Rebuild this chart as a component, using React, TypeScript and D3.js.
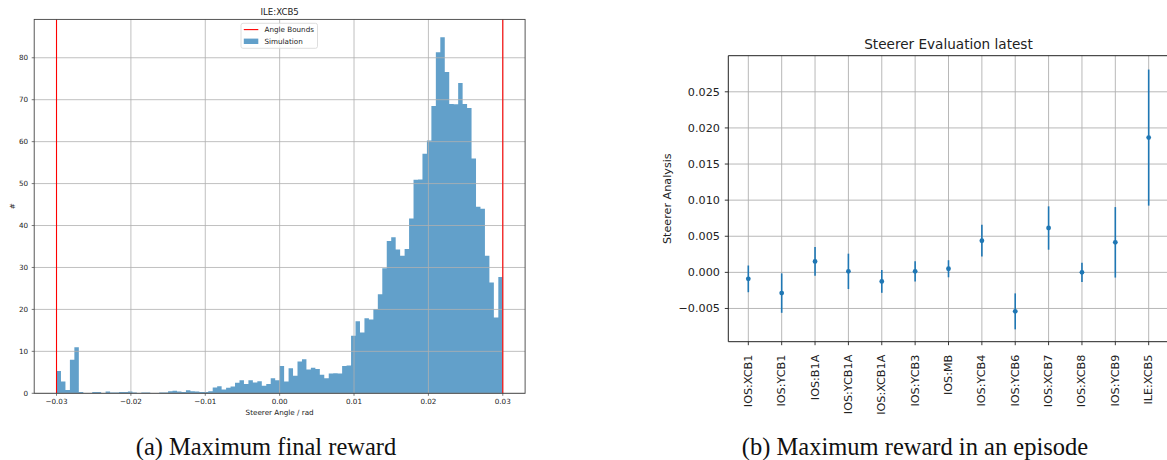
import React from "react";
import * as d3 from "d3";

// ---- Histogram of steerer angles for ILE:XCB5 ----
const histRange = [-0.03, 0.03];
const histCounts = [
  5.3, 2.8, 0.8, 8.0, 11.0, 0.3, 0, 0, 0.3, 0.3,
  0, 0.4, 0.2, 0.2, 0.3, 0.3, 0.4, 0.2, 0, 0.2,
  0.2, 0, 0, 0.2, 0.2, 0.5, 0.6, 0.4, 0.3, 0.7,
  0.5, 0.4, 0.3, 0.3, 0.5, 1.4, 1.7, 0.9, 1.3, 1.6,
  2.5, 3.1, 2.2, 3.1, 2.6, 2.9, 1.8, 2.2, 3.6, 3.1,
  6.5, 2.8, 6.0, 4.2, 7.6, 8.1, 5.7, 6.1, 5.8, 4.4,
  3.6, 4.7, 4.8, 4.7, 6.5, 6.6, 13.7, 17.2, 14.5, 17.9,
  17.6, 20.1, 23.6, 29.8, 36.3, 37.2, 34.3, 32.8, 34.4, 41.7,
  50.9, 51.0, 57.1, 60.3, 68.5, 81.3, 84.9, 76.6, 69.0, 68.9,
  74.0, 69.0, 68.0, 56.0, 44.5, 44.0, 32.8, 26.4, 18.1, 27.7,
];
const angleBounds = [-0.03, 0.03];
const histXTicks = [-0.03, -0.02, -0.01, 0, 0.01, 0.02, 0.03];
const histYTicks = [0, 10, 20, 30, 40, 50, 60, 70, 80];

// ---- Steerer evaluation (mean ± spread) ----
const steerers = [
  "IOS:XCB1", "IOS:YCB1", "IOS:B1A", "IOS:YCB1A", "IOS:XCB1A", "IOS:YCB3", "IOS:MB",
  "IOS:YCB4", "IOS:YCB6", "IOS:XCB7", "IOS:XCB8", "IOS:YCB9", "ILE:XCB5",
];
const steererMeans = [
  -0.0009, -0.00287, 0.00152, 0.00014, -0.00125, 0.00014, 0.0005,
  0.00438, -0.0054, 0.00614, 0.0, 0.00416, 0.01866,
];
const steererErrs = [
  0.00185, 0.00273, 0.00199, 0.00245, 0.00158, 0.00139, 0.00118,
  0.0022, 0.00249, 0.003, 0.00134, 0.00488, 0.00942,
];
const evalYTicks = [-0.005, 0, 0.005, 0.01, 0.015, 0.02, 0.025];

const captions = ["(a) Maximum final reward", "(b) Maximum reward in an episode"];

const SANS = "'DejaVu Sans', sans-serif";
const SERIF = "'Liberation Serif', 'DejaVu Serif', serif";
const C0 = "#1f77b4";
const GRID = "#b0b0b0";

function Histogram() {
  const left = 34.2, right = 525.1, top = 19.4, bottom = 393.3;
  const x = d3.scaleLinear().domain([-0.033, 0.033]).range([left, right]);
  const yMax = d3.max(histCounts)! * 1.05;
  const y = d3.scaleLinear().domain([0, yMax]).range([bottom, top]);

  const n = histCounts.length;
  const step = (histRange[1] - histRange[0]) / n;
  const edges = d3.range(n + 1).map((i) => histRange[0] + i * step);
  const pts = edges.map((e, i) => ({ e, v: histCounts[Math.min(i, n - 1)] }));
  const area = d3
    .area<{ e: number; v: number }>()
    .x((d) => x(d.e))
    .y0(y(0))
    .y1((d) => y(d.v))
    .curve(d3.curveStepAfter);

  const fmtX = d3.format(".2f");
  const fs = 7.2;

  return (
    <g>
      <text x={(left + right) / 2} y={14.6} textAnchor="middle" fontSize={8.6} fontFamily={SANS} fill="#222">
        ILE:XCB5
      </text>
      <path d={area(pts) ?? ""} fill={C0} fillOpacity={0.7} />
      {/* grid */}
      {histXTicks.map((t) => (
        <line key={"gx" + t} x1={x(t)} x2={x(t)} y1={top} y2={bottom} stroke={GRID} strokeWidth={0.8} />
      ))}
      {histYTicks.map((t) => (
        <line key={"gy" + t} x1={left} x2={right} y1={y(t)} y2={y(t)} stroke={GRID} strokeWidth={0.8} />
      ))}
      {/* angle bounds */}
      {angleBounds.map((b) => (
        <line key={"b" + b} x1={x(b)} x2={x(b)} y1={top} y2={bottom} stroke="#ff0000" strokeWidth={1.1} />
      ))}
      {/* frame */}
      <rect x={left} y={top} width={right - left} height={bottom - top} fill="none" stroke="#444" strokeWidth={0.9} />
      {/* x ticks */}
      {histXTicks.map((t) => (
        <g key={"xt" + t}>
          <line x1={x(t)} x2={x(t)} y1={bottom} y2={bottom + 2.5} stroke="#444" strokeWidth={0.7} />
          <text x={x(t)} y={bottom + 10.6} textAnchor="middle" fontSize={fs} fontFamily={SANS} fill="#222">
            {fmtX(t)}
          </text>
        </g>
      ))}
      {/* y ticks */}
      {histYTicks.map((t) => (
        <g key={"yt" + t}>
          <line x1={left - 2.5} x2={left} y1={y(t)} y2={y(t)} stroke="#444" strokeWidth={0.7} />
          <text x={left - 6} y={y(t) + 2.6} textAnchor="end" fontSize={fs} fontFamily={SANS} fill="#222">
            {t}
          </text>
        </g>
      ))}
      <text x={(left + right) / 2} y={414.5} textAnchor="middle" fontSize={fs} fontFamily={SANS} fill="#222">
        Steerer Angle / rad
      </text>
      <text
        transform={`translate(15,${(top + bottom) / 2}) rotate(-90)`}
        textAnchor="middle"
        fontSize={fs}
        fontFamily={SANS}
        fill="#222"
      >
        #
      </text>
      {/* legend */}
      <g>
        <rect x={241} y={23.3} width={76.5} height={25} rx={2} fill="#fff" fillOpacity={0.8} stroke="#d6d6d6" strokeWidth={0.8} />
        <line x1={243.8} x2={258.3} y1={29.6} y2={29.6} stroke="#ff0000" strokeWidth={1.1} />
        <text x={264.5} y={32.2} fontSize={fs} fontFamily={SANS} fill="#222">
          Angle Bounds
        </text>
        <rect x={243.8} y={38.6} width={14.5} height={5.4} fill={C0} fillOpacity={0.7} />
        <text x={264.5} y={43.9} fontSize={fs} fontFamily={SANS} fill="#222">
          Simulation
        </text>
      </g>
    </g>
  );
}

function Evaluation() {
  const left = 728.3, right = 1168.7, top = 55.7, bottom = 341.7;
  const x = d3.scaleLinear().domain([-0.6, steerers.length - 1 + 0.6]).range([left, right]);
  const y = d3.scaleLinear().domain([-0.0096, 0.03]).range([bottom, top]);
  const fmtY = d3.format(".3f");
  const fs = 11.2;

  return (
    <g>
      <text x={(left + right) / 2} y={49} textAnchor="middle" fontSize={13.6} fontFamily={SANS} fill="#222">
        Steerer Evaluation latest
      </text>
      {/* grid */}
      {steerers.map((s, i) => (
        <line key={"gx" + s} x1={x(i)} x2={x(i)} y1={top} y2={bottom} stroke={GRID} strokeWidth={0.9} />
      ))}
      {evalYTicks.map((t) => (
        <line key={"gy" + t} x1={left} x2={right} y1={y(t)} y2={y(t)} stroke={GRID} strokeWidth={0.9} />
      ))}
      {/* error bars */}
      {steerers.map((s, i) => (
        <g key={"eb" + s}>
          <line
            x1={x(i)}
            x2={x(i)}
            y1={y(steererMeans[i] - steererErrs[i])}
            y2={y(steererMeans[i] + steererErrs[i])}
            stroke={C0}
            strokeWidth={1.6}
          />
          <circle cx={x(i)} cy={y(steererMeans[i])} r={2.4} fill={C0} />
        </g>
      ))}
      {/* spines */}
      <line x1={left} x2={right} y1={top} y2={top} stroke="#222" strokeWidth={1} />
      <line x1={left} x2={right} y1={bottom} y2={bottom} stroke="#222" strokeWidth={1} />
      <line x1={left} x2={left} y1={top} y2={bottom} stroke="#222" strokeWidth={1} />
      <line x1={right} x2={right} y1={top} y2={bottom} stroke="#222" strokeWidth={1} />
      {/* y ticks */}
      {evalYTicks.map((t) => (
        <g key={"yt" + t}>
          <line x1={left - 3.5} x2={left} y1={y(t)} y2={y(t)} stroke="#222" strokeWidth={0.9} />
          <text x={left - 8.4} y={y(t) + 4} textAnchor="end" fontSize={fs} fontFamily={SANS} fill="#222">
            {fmtY(t)}
          </text>
        </g>
      ))}
      {/* x ticks, rotated labels */}
      {steerers.map((s, i) => (
        <g key={"xt" + s}>
          <line x1={x(i)} x2={x(i)} y1={bottom} y2={bottom + 3.5} stroke="#222" strokeWidth={0.9} />
          <text
            transform={`translate(${x(i)},${bottom + 13}) rotate(-90)`}
            textAnchor="end"
            dominantBaseline="central"
            fontSize={fs}
            fontFamily={SANS}
            fill="#222"
          >
            {s}
          </text>
        </g>
      ))}
      <text
        transform={`translate(670.5,${(top + bottom) / 2}) rotate(-90)`}
        textAnchor="middle"
        fontSize={fs}
        fontFamily={SANS}
        fill="#222"
      >
        Steerer Analysis
      </text>
    </g>
  );
}

export default function App() {
  return (
    <svg
      width={1167}
      height={460}
      viewBox="0 0 1167 460"
      style={{ position: "absolute", left: 0, top: 0, background: "#fff" }}
    >
      <rect x={0} y={0} width={1167} height={460} fill="#fff" />
      <Histogram />
      <Evaluation />
      <text x={266} y={455} textAnchor="middle" fontSize={24.5} fontFamily={SERIF} fill="#111">
        {captions[0]}
      </text>
      <text x={915} y={455} textAnchor="middle" fontSize={24.5} fontFamily={SERIF} fill="#111">
        {captions[1]}
      </text>
    </svg>
  );
}
